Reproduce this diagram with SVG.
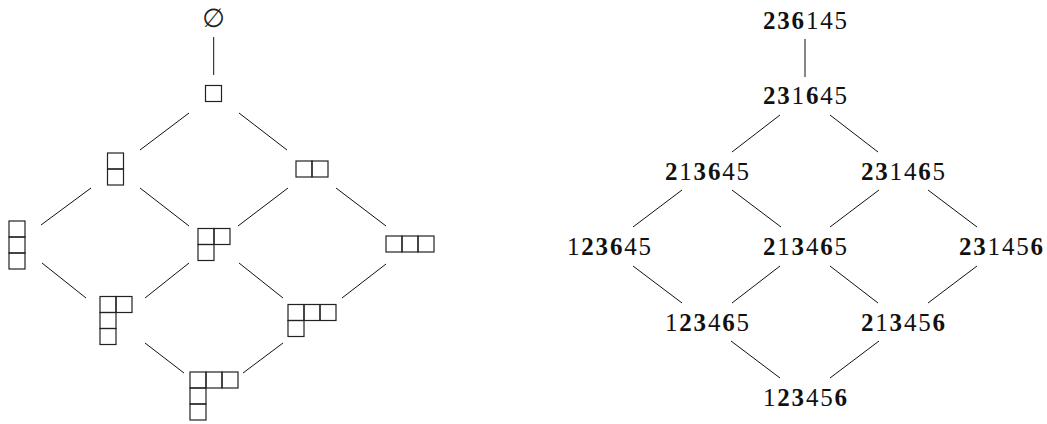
<svg xmlns="http://www.w3.org/2000/svg" xmlns:xlink="http://www.w3.org/1999/xlink" width="1047" height="424" viewBox="0 0 1047 424">
  <style>
    .edge { stroke: #111; stroke-width: 1; fill: none; }
    .cell { fill: none; stroke: #222; stroke-width: 1.2; }
    .perm { font-family: "Liberation Serif", "Times New Roman", serif; font-size: 25px; fill: #111; text-anchor: middle; }
    .perm .b { font-weight: bold; }
    .empty { font-family: "DejaVu Sans", sans-serif; font-size: 26px; fill: #222; text-anchor: middle; }
  </style>
  <defs>
    <rect id="c" class="cell" width="16" height="16"/>
  </defs>
  <rect width="1047" height="424" fill="#fff"/>

  <!-- Young's lattice of partitions -->
  <g id="connectors-left">
    <line class="edge" x1="213.7" y1="37" x2="213.7" y2="75"/>
    <line class="edge" x1="189" y1="113" x2="140" y2="150"/>
    <line class="edge" x1="239" y1="113" x2="287" y2="150"/>
    <line class="edge" x1="91" y1="188" x2="41" y2="225"/>
    <line class="edge" x1="140" y1="188" x2="189" y2="226"/>
    <line class="edge" x1="288" y1="188" x2="238" y2="226"/>
    <line class="edge" x1="336" y1="188" x2="386" y2="226"/>
    <line class="edge" x1="42" y1="263" x2="86" y2="298"/>
    <line class="edge" x1="189" y1="263" x2="145" y2="298"/>
    <line class="edge" x1="239" y1="263" x2="283" y2="298"/>
    <line class="edge" x1="386" y1="264" x2="342" y2="298"/>
    <line class="edge" x1="145" y1="343" x2="184" y2="373"/>
    <line class="edge" x1="283" y1="343" x2="243" y2="373"/>
  </g>

  <g id="p-empty">
    <text class="empty" x="213.7" y="27">∅</text>
  </g>
  <g id="p-1">
    <use xlink:href="#c" x="205.5" y="85.5"/>
  </g>
  <g id="p-11">
    <use xlink:href="#c" x="107.5" y="153"/>
    <use xlink:href="#c" x="107.5" y="169"/>
  </g>
  <g id="p-2">
    <use xlink:href="#c" x="296" y="161"/>
    <use xlink:href="#c" x="312" y="161"/>
  </g>
  <g id="p-111">
    <use xlink:href="#c" x="9" y="221"/>
    <use xlink:href="#c" x="9" y="237"/>
    <use xlink:href="#c" x="9" y="253"/>
  </g>
  <g id="p-21">
    <use xlink:href="#c" x="198" y="228.5"/>
    <use xlink:href="#c" x="214" y="228.5"/>
    <use xlink:href="#c" x="198" y="244.5"/>
  </g>
  <g id="p-3">
    <use xlink:href="#c" x="386" y="236"/>
    <use xlink:href="#c" x="402" y="236"/>
    <use xlink:href="#c" x="418" y="236"/>
  </g>
  <g id="p-211">
    <use xlink:href="#c" x="100" y="296.5"/>
    <use xlink:href="#c" x="116" y="296.5"/>
    <use xlink:href="#c" x="100" y="312.5"/>
    <use xlink:href="#c" x="100" y="328.5"/>
  </g>
  <g id="p-31">
    <use xlink:href="#c" x="288" y="304.5"/>
    <use xlink:href="#c" x="304" y="304.5"/>
    <use xlink:href="#c" x="320" y="304.5"/>
    <use xlink:href="#c" x="288" y="320.5"/>
  </g>
  <g id="p-311">
    <use xlink:href="#c" x="190" y="372"/>
    <use xlink:href="#c" x="206" y="372"/>
    <use xlink:href="#c" x="222" y="372"/>
    <use xlink:href="#c" x="190" y="388"/>
    <use xlink:href="#c" x="190" y="404"/>
  </g>

  <!-- lattice of permutations -->
  <g id="connectors-right">
    <line class="edge" x1="805" y1="39" x2="805" y2="77"/>
    <line class="edge" x1="780" y1="115" x2="732" y2="152"/>
    <line class="edge" x1="830" y1="115" x2="878" y2="152"/>
    <line class="edge" x1="682" y1="190" x2="633" y2="227"/>
    <line class="edge" x1="732" y1="190" x2="781" y2="227"/>
    <line class="edge" x1="879" y1="190" x2="830" y2="227"/>
    <line class="edge" x1="928" y1="190" x2="977" y2="227"/>
    <line class="edge" x1="633" y1="266" x2="682" y2="303"/>
    <line class="edge" x1="780" y1="266" x2="732" y2="303"/>
    <line class="edge" x1="830" y1="266" x2="878" y2="303"/>
    <line class="edge" x1="977" y1="266" x2="928" y2="303"/>
    <line class="edge" x1="731" y1="341" x2="780" y2="378"/>
    <line class="edge" x1="879" y1="341" x2="830" y2="378"/>
  </g>

  <g id="w-236145">
    <text class="perm" x="805" y="29" textLength="84" lengthAdjust="spacing"><tspan class="b">236</tspan>145</text>
  </g>
  <g id="w-231645">
    <text class="perm" x="805" y="104" textLength="84" lengthAdjust="spacing"><tspan class="b">23</tspan>1<tspan class="b">6</tspan>45</text>
  </g>
  <g id="w-213645">
    <text class="perm" x="707" y="180" textLength="84" lengthAdjust="spacing"><tspan class="b">2</tspan>1<tspan class="b">36</tspan>45</text>
  </g>
  <g id="w-231465">
    <text class="perm" x="903" y="180" textLength="84" lengthAdjust="spacing"><tspan class="b">23</tspan>14<tspan class="b">6</tspan>5</text>
  </g>
  <g id="w-123645">
    <text class="perm" x="609" y="255" textLength="84" lengthAdjust="spacing">1<tspan class="b">236</tspan>45</text>
  </g>
  <g id="w-213465">
    <text class="perm" x="805" y="255" textLength="84" lengthAdjust="spacing"><tspan class="b">2</tspan>1<tspan class="b">3</tspan>4<tspan class="b">6</tspan>5</text>
  </g>
  <g id="w-231456">
    <text class="perm" x="1001" y="255" textLength="84" lengthAdjust="spacing"><tspan class="b">23</tspan>145<tspan class="b">6</tspan></text>
  </g>
  <g id="w-123465">
    <text class="perm" x="707" y="331" textLength="84" lengthAdjust="spacing">1<tspan class="b">23</tspan>4<tspan class="b">6</tspan>5</text>
  </g>
  <g id="w-213456">
    <text class="perm" x="903" y="331" textLength="84" lengthAdjust="spacing"><tspan class="b">2</tspan>1<tspan class="b">3</tspan>45<tspan class="b">6</tspan></text>
  </g>
  <g id="w-123456">
    <text class="perm" x="805" y="406" textLength="84" lengthAdjust="spacing">1<tspan class="b">23</tspan>45<tspan class="b">6</tspan></text>
  </g>
</svg>
